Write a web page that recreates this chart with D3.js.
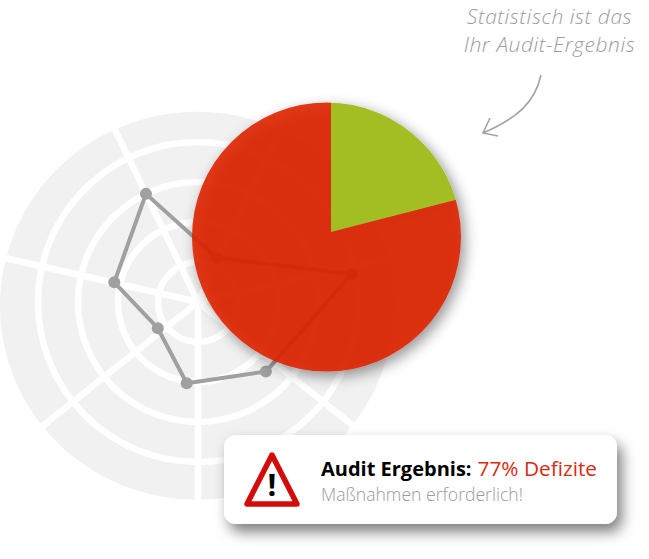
<!DOCTYPE html>
<html>
<head>
<meta charset="utf-8">
<script src="https://cdn.jsdelivr.net/npm/d3@7"></script>
<style>
  html, body { margin: 0; padding: 0; background: #fff; }
  svg { display: block; }
  text { font-family: "Open Sans", sans-serif; }
</style>
</head>
<body>
<svg id="chart" width="649" height="559"></svg>
<script>
// radar
var ringLevels = [1, 2, 3, 4];
var spokeAngles = [0, 51.43, 102.86, 154.29, 205.71, 257.14, 308.57].map(function (d) { return d + 25.71; });
var pointAngles = [334.3, 283.2, 236.9, 187.9, 135.7, 79.7, 23.2];
var pointValues = [3.0, 2.15, 1.2, 2.05, 2.43, 3.9, 1.2];
var radarMax = 5;

// pie
var pieLabels = ['Erfuellt', 'Defizite'];
var pieValues = [21, 79];
var pieColors = ['#a3be20', '#dd2200'];
var pieAlpha = [1, 0.9];

// texts
var noteLines = ['Statistisch ist das', 'Ihr Audit-Ergebnis'];
var boxTitle = 'Audit Ergebnis:';
var boxResult = '77% Defizite';
var boxSub = 'Maßnahmen erforderlich!';

var svg = d3.select('#chart');
var defs = svg.append('defs');

function addShadow(id, dx, dy, blur, opacity) {
  var f = defs.append('filter').attr('id', id)
    .attr('x', '-20%').attr('y', '-20%').attr('width', '140%').attr('height', '160%');
  f.append('feDropShadow')
    .attr('dx', dx).attr('dy', dy).attr('stdDeviation', blur)
    .attr('flood-color', '#000').attr('flood-opacity', opacity);
}
addShadow('pieShadow', 4, 5, 7, 0.45);
addShadow('boxShadow', 5, 8, 7, 0.5);

var rScale = d3.scaleLinear().domain([0, radarMax]).range([0, 200]);
var toRad = function (d) { return d * Math.PI / 180; };

// background radar, the disc is slightly off the ring centre
svg.append('ellipse')
  .attr('cx', 197).attr('cy', 305.8)
  .attr('rx', 197).attr('ry', 194)
  .attr('fill', '#f1f1f1');
var radar = svg.append('g').attr('transform', 'translate(198,302)');
radar.selectAll('.ring')
  .data(ringLevels).enter()
  .append('circle')
    .attr('class', 'ring')
    .attr('r', function (d) { return rScale(d); })
    .attr('fill', 'none')
    .attr('stroke', '#fff')
    .attr('stroke-width', 6.5);
radar.selectAll('.spoke')
  .data(spokeAngles).enter()
  .append('line')
    .attr('class', 'spoke')
    .attr('x2', function (d) { return rScale(radarMax) * Math.sin(toRad(d)); })
    .attr('y2', function (d) { return -rScale(radarMax) * Math.cos(toRad(d)); })
    .attr('stroke', '#fff')
    .attr('stroke-width', 6.5);

var points = pointAngles.map(function (a, i) { return [toRad(a), rScale(pointValues[i])]; });
radar.append('path')
  .attr('d', d3.lineRadial().curve(d3.curveLinearClosed)(points))
  .attr('fill', 'none')
  .attr('stroke', '#a0a0a0')
  .attr('stroke-width', 4);
radar.selectAll('.dot')
  .data(points).enter()
  .append('circle')
    .attr('class', 'dot')
    .attr('cx', function (d) { return d[1] * Math.sin(d[0]); })
    .attr('cy', function (d) { return -d[1] * Math.cos(d[0]); })
    .attr('r', 6)
    .attr('fill', '#a0a0a0');

// pie, the slice tip sits a bit off the circle centre
defs.append('clipPath').attr('id', 'pieClip')
  .append('circle').attr('cx', 326.5).attr('cy', 237).attr('r', 134.5);
var pieWrap = svg.append('g').attr('filter', 'url(#pieShadow)');
var pieClip = pieWrap.append('g').attr('clip-path', 'url(#pieClip)');
var arcs = d3.pie().sort(null)(pieValues);
var arc = d3.arc().innerRadius(0).outerRadius(150);
pieClip.append('g')
  .attr('transform', 'translate(331,232)')
  .selectAll('path')
  .data(arcs).enter()
  .append('path')
    .attr('d', arc)
    .attr('fill', function (d, i) { return pieColors[i]; })
    .attr('fill-opacity', function (d, i) { return pieAlpha[i]; })
    .append('title').text(function (d, i) { return pieLabels[i]; });

// note with arrow
svg.append('g').selectAll('text')
  .data(noteLines).enter()
  .append('text')
    .attr('x', 549.5)
    .attr('y', function (d, i) { return 24 + i * 28; })
    .attr('text-anchor', 'middle')
    .attr('font-size', 21)
    .attr('font-style', 'italic')
    .attr('font-weight', 300)
    .attr('letter-spacing', 0.55)
    .attr('fill', '#9c9c9c')
    .text(function (d) { return d; });
svg.append('path')
  .attr('d', 'M541,75C535,103 517,118 483,133M490,118L483,133L498,136')
  .attr('fill', 'none')
  .attr('stroke', '#a3a3a3')
  .attr('stroke-width', 1.6);

// result box
var box = svg.append('g');
box.append('rect')
  .attr('x', 224).attr('y', 435)
  .attr('width', 393).attr('height', 89)
  .attr('rx', 12)
  .attr('fill', '#fff')
  .attr('filter', 'url(#boxShadow)');
box.append('path')
  .attr('d', 'M272,455L247,504L297,504Z')
  .attr('fill', '#fff')
  .attr('stroke', '#d40b0b')
  .attr('stroke-width', 5.5)
  .attr('stroke-linejoin', 'round');
box.append('text')
  .attr('x', 272).attr('y', 496)
  .attr('text-anchor', 'middle')
  .attr('font-size', 31)
  .attr('font-weight', 700)
  .attr('fill', '#000')
  .text('!');
var title = box.append('text').attr('x', 321).attr('y', 476);
title.append('tspan').attr('font-size', 20).attr('font-weight', 700).attr('fill', '#000').text(boxTitle);
title.append('tspan').attr('dx', 6).attr('font-size', 20.8).attr('fill', '#d92a12').text(boxResult);
box.append('text')
  .attr('x', 321).attr('y', 501)
  .attr('font-size', 17.6)
  .attr('font-weight', 300)
  .attr('fill', '#9a9a9a')
  .text(boxSub);
</script>
</body>
</html>
